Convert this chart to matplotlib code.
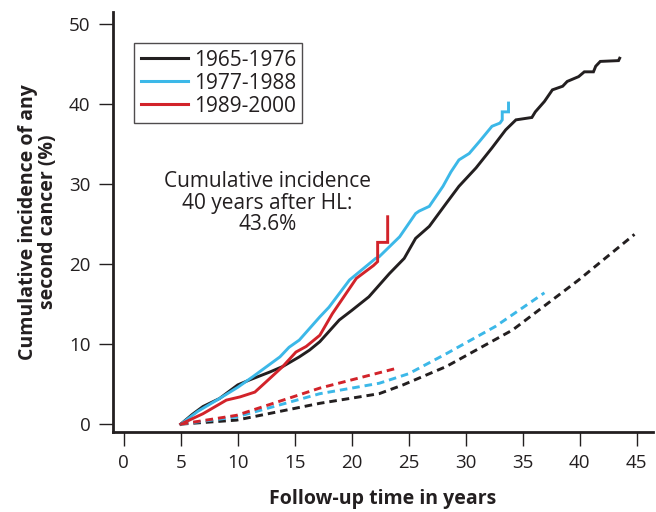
import matplotlib
matplotlib.use("Agg")
import matplotlib.pyplot as plt

plt.rcParams['font.family'] = ['Open Sans', 'DejaVu Sans']

# Observed cumulative incidence (solid)
x_6576 = [5.0, 6.0, 6.95, 8.4, 10.0, 11.0, 12.8, 13.95, 15.4, 16.3, 17.2, 18.9, 20.0, 21.5,
          23.3, 24.6, 25.6, 26.8, 28.3, 29.4, 30.9, 32.3, 33.5, 34.4, 35.8, 36.1, 36.9,
          37.6, 38.5, 38.9, 39.9, 40.4, 41.2, 41.4, 41.8, 43.4, 43.5]
y_6576 = [0.0, 1.2, 2.2, 3.2, 4.9, 5.5, 6.5, 7.2, 8.4, 9.25, 10.3, 13.0, 14.2, 15.9,
          18.8, 20.7, 23.2, 24.7, 27.6, 29.7, 32.0, 34.5, 36.75, 38.0, 38.3, 39.0, 40.3,
          41.75, 42.2, 42.8, 43.4, 44.0, 44.0, 44.7, 45.3, 45.4, 45.7]

x_7788 = [5.0, 6.5, 8.4, 10.0, 11.3, 13.7, 14.5, 15.4, 17.2, 18.0, 19.8, 22.1, 22.4, 24.2,
          25.6, 25.9, 26.8, 28.0, 28.7, 29.4, 30.3, 31.2, 32.3, 33.0, 33.2, 33.2, 33.75, 33.75]
y_7788 = [0.0, 1.6, 3.2, 4.6, 5.9, 8.4, 9.6, 10.5, 13.4, 14.6, 18.0, 20.7, 20.9, 23.4,
          26.3, 26.6, 27.2, 29.7, 31.5, 33.0, 33.8, 35.3, 37.2, 37.6, 38.0, 39.0, 39.0, 40.1]

x_8900 = [5.0, 6.95, 9.0, 10.2, 11.5, 12.5, 13.95, 15.1, 16.0, 17.2, 18.3, 20.4, 21.9,
          22.27, 22.27, 23.15, 23.15]
y_8900 = [0.0, 1.3, 3.0, 3.4, 4.0, 5.3, 7.2, 9.0, 9.7, 11.1, 13.8, 18.2, 19.8,
          20.3, 22.7, 22.7, 25.9]

# Expected incidence (dashed)
xe_6576 = [5.0, 9.9, 17.2, 22.4, 24.5, 28.3, 34.1, 39.9, 44.8]
ye_6576 = [0.0, 0.5, 2.6, 3.8, 4.9, 7.2, 11.75, 18.0, 23.7]
xe_7788 = [5.0, 9.9, 17.2, 22.4, 25.0, 28.3, 32.6, 36.9]
ye_7788 = [0.0, 0.9, 3.8, 5.1, 6.3, 8.8, 12.2, 16.4]
xe_8900 = [5.0, 9.9, 17.2, 24.0]
ye_8900 = [0.0, 1.1, 4.5, 7.0]

labels = ["1965-1976", "1977-1988", "1989-2000"]
xticks = [0, 5, 10, 15, 20, 25, 30, 35, 40, 45]
yticks = [0, 10, 20, 30, 40, 50]

c_black = "#231f20"
c_blue = "#3cb8e8"
c_red = "#d2232a"

fig = plt.figure(figsize=(6.56, 5.12), dpi=100)
ax = fig.add_axes([0.172, 0.156, 0.823, 0.821])

lw = 2.1
ax.plot(x_6576, y_6576, color=c_black, lw=lw, label=labels[0], solid_joinstyle='miter')
ax.plot(x_7788, y_7788, color=c_blue, lw=lw, label=labels[1], solid_joinstyle='miter')
ax.plot(x_8900, y_8900, color=c_red, lw=lw, label=labels[2], solid_joinstyle='miter')

dash = (0, (2.6, 1.7))
ax.plot(xe_6576, ye_6576, color=c_black, lw=lw, linestyle=dash)
ax.plot(xe_7788, ye_7788, color=c_blue, lw=lw, linestyle=dash)
ax.plot(xe_8900, ye_8900, color=c_red, lw=lw, linestyle=dash)

ax.set_xlim(-0.96, 46.4)
ax.set_ylim(-1.0, 51.5)
ax.set_xticks(xticks)
ax.set_yticks(yticks)
ax.tick_params(axis='both', labelsize=13.5, length=10, width=1.0, color=c_black,
               labelcolor=c_black, pad=6)
for s in ['top', 'right']:
    ax.spines[s].set_visible(False)
for s in ['left', 'bottom']:
    ax.spines[s].set_linewidth(2.0)
    ax.spines[s].set_color(c_black)

ax.set_xlabel("Follow-up time in years", fontsize=14, fontweight='bold', color=c_black, labelpad=12)
ax.set_ylabel("Cumulative incidence of any\nsecond cancer (%)", fontsize=14, fontweight='bold',
              color=c_black, labelpad=8, linespacing=1.0)

ax.text(12.6, 27.6, "Cumulative incidence\n40 years after HL:\n43.6%", ha='center', va='center',
        fontsize=15, color=c_black, linespacing=1.05)

leg = ax.legend(loc='upper left', bbox_to_anchor=(0.04, 0.925), fontsize=15, frameon=True,
                fancybox=False, handlelength=2.25, handletextpad=0.3, borderpad=0.3,
                labelspacing=0.1, borderaxespad=0)
leg.get_frame().set_edgecolor(c_black)
leg.get_frame().set_linewidth(1.0)
for line in leg.get_lines():
    line.set_linewidth(2.2)
for t in leg.get_texts():
    t.set_color(c_black)

fig.savefig("out.png", dpi=100)
